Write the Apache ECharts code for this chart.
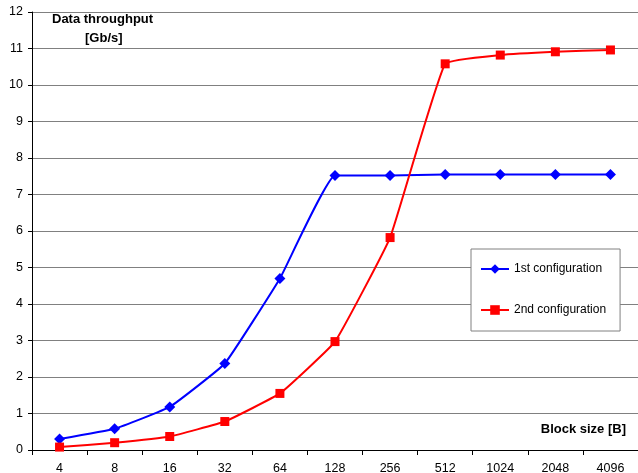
<!DOCTYPE html>
<html>
<head>
<meta charset="utf-8">
<script src="https://cdn.jsdelivr.net/npm/echarts@6/dist/echarts.min.js"></script>
<style>html,body{margin:0;padding:0;background:#fff}#c{width:638px;height:473px}</style>
</head>
<body>
<div id="c"></div>
<script>
const categories = ['4','8','16','32','64','128','256','512','1024','2048','4096'];
const config1 = [0.30, 0.58, 1.18, 2.37, 4.70, 7.52, 7.52, 7.55, 7.55, 7.55, 7.55];
const config2 = [0.08, 0.20, 0.37, 0.78, 1.55, 2.97, 5.82, 10.58, 10.82, 10.91, 10.96];
const seriesNames = ['1st configuration', '2nd configuration'];
const yTitle1 = 'Data throughput';
const yTitle2 = '[Gb/s]';
const xTitle = 'Block size [B]';

const chart = echarts.init(document.getElementById('c'), null, {renderer: 'canvas'});
const font = 'Liberation Sans, Arial, sans-serif';
chart.setOption({
  animation: false,
  backgroundColor: '#fff',
  textStyle: {fontFamily: font},
  grid: {left: 32, right: 0, top: 12, bottom: 23, containLabel: false, outerBoundsMode: 'none'},
  graphic: [
    {type: 'text', left: 52, top: 13, style: {text: yTitle1, font: 'bold 13px ' + font, fill: '#000'}},
    {type: 'text', left: 85, top: 32, style: {text: yTitle2, font: 'bold 13px ' + font, fill: '#000'}},
    {type: 'text', right: 12, top: 423, style: {text: xTitle, font: 'bold 13px ' + font, fill: '#000'}}
  ],
  legend: {
    left: 471, top: 249, orient: 'vertical',
    data: seriesNames,
    backgroundColor: '#fff', borderColor: '#808080', borderWidth: 1,
    padding: [14, 14, 15, 9],
    itemWidth: 28, itemHeight: 12, itemGap: 29,
    textStyle: {fontSize: 12, color: '#000', fontFamily: font}
  },
  xAxis: {
    type: 'category', data: categories, boundaryGap: true,
    axisLine: {lineStyle: {color: '#000', width: 1}},
    axisTick: {show: true, length: 5, lineStyle: {color: '#000'}},
    axisLabel: {color: '#000', fontSize: 12.5, margin: 12},
    splitLine: {show: false}
  },
  yAxis: {
    type: 'value', min: 0, max: 12, interval: 1,
    axisLine: {show: true, lineStyle: {color: '#000', width: 1}},
    axisTick: {show: true, length: 4, lineStyle: {color: '#000'}},
    axisLabel: {color: '#000', fontSize: 12.5, margin: 9},
    splitLine: {show: true, lineStyle: {color: '#808080', width: 1}}
  },
  series: [
    {name: seriesNames[0], type: 'line', data: config1, smooth: 0.1,
     symbol: 'diamond', symbolSize: 11, color: '#0000ff',
     lineStyle: {color: '#0000ff', width: 2}, itemStyle: {color: '#0000ff'}},
    {name: seriesNames[1], type: 'line', data: config2, smooth: 0.1,
     symbol: 'rect', symbolSize: 9, color: '#ff0000',
     lineStyle: {color: '#ff0000', width: 2}, itemStyle: {color: '#ff0000'}}
  ]
});
</script>
</body>
</html>
